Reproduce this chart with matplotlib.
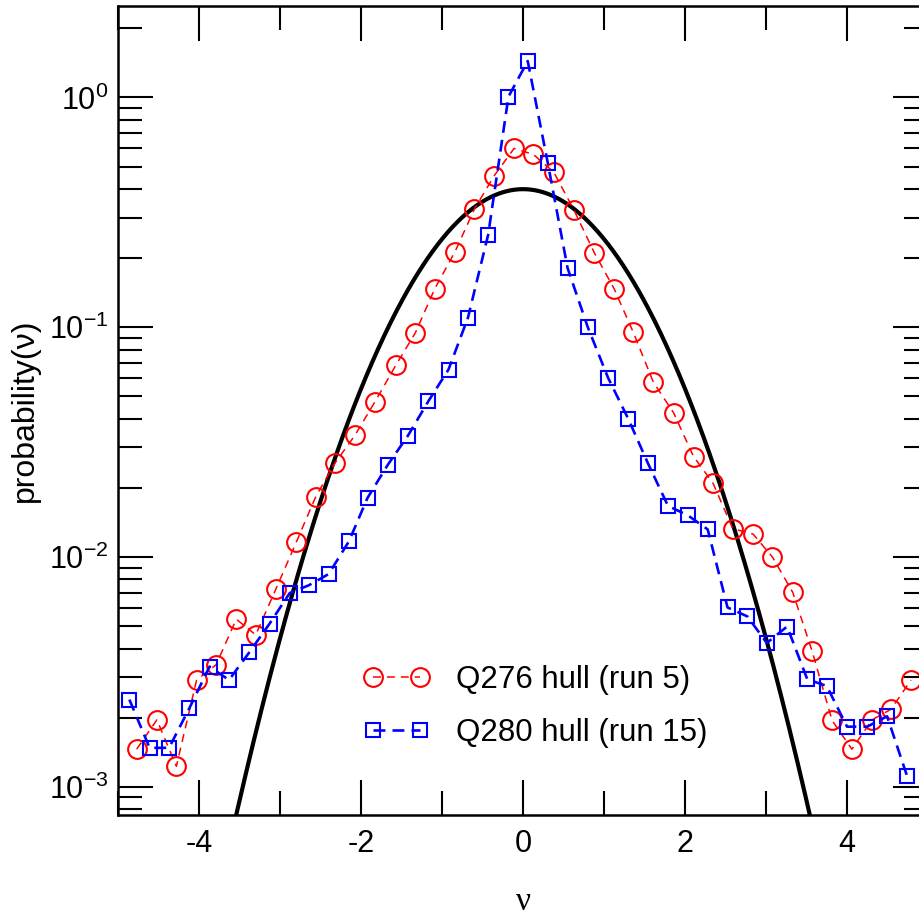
"""Distribuição de probabilidade de nu: dois cascos contra a normal padrão."""

import numpy as np
import matplotlib

matplotlib.use("Agg")
import matplotlib.pyplot as plt
from matplotlib.ticker import LogLocator, MultipleLocator, NullFormatter

plt.rcParams["font.family"] = ["Liberation Sans", "DejaVu Sans"]
plt.rcParams["mathtext.fontset"] = "custom"
plt.rcParams["mathtext.rm"] = "Liberation Sans"
plt.rcParams["axes.unicode_minus"] = False

# Q276 hull (run 5) - círculos vermelhos
nu_q276 = [-4.77, -4.52, -4.28, -4.03, -3.79, -3.54, -3.30, -3.05, -2.80, -2.56,
           -2.32, -2.07, -1.83, -1.57, -1.33, -1.09, -0.84, -0.60, -0.355, -0.11,
           0.127, 0.38, 0.63, 0.88, 1.125, 1.36, 1.61, 1.86, 2.105, 2.345,
           2.59, 2.84, 3.08, 3.33, 3.57, 3.815, 4.06, 4.31, 4.545, 4.79]
p_q276 = [1.46e-3, 1.96e-3, 1.23e-3, 2.92e-3, 3.40e-3, 5.37e-3, 4.59e-3, 7.28e-3,
          0.0116, 0.0183, 0.0257, 0.0341, 0.0473, 0.0684, 0.0945, 0.147, 0.213,
          0.327, 0.457, 0.600, 0.565, 0.473, 0.323, 0.211, 0.147, 0.0953, 0.0576,
          0.0424, 0.0274, 0.0210, 0.0133, 0.0126, 0.0100, 7.03e-3, 3.89e-3,
          1.95e-3, 1.46e-3, 1.96e-3, 2.18e-3, 2.92e-3]

# Q280 hull (run 15) - quadrados azuis
nu_q280 = [-4.86, -4.61, -4.37, -4.12, -3.87, -3.63, -3.38, -3.13, -2.88, -2.645,
           -2.40, -2.15, -1.92, -1.67, -1.42, -1.17, -0.92, -0.68, -0.43, -0.18,
           0.058, 0.305, 0.55, 0.80, 1.05, 1.30, 1.54, 1.79, 2.035, 2.28,
           2.525, 2.77, 3.01, 3.26, 3.51, 3.75, 4.00, 4.25, 4.495, 4.74]
p_q280 = [2.40e-3, 1.48e-3, 1.48e-3, 2.20e-3, 3.34e-3, 2.92e-3, 3.85e-3, 5.13e-3,
          6.98e-3, 7.54e-3, 8.44e-3, 0.0117, 0.0181, 0.0252, 0.0338, 0.0476,
          0.0655, 0.110, 0.253, 1.007, 1.44, 0.520, 0.181, 0.100, 0.0603, 0.0399,
          0.0257, 0.0167, 0.0152, 0.0132, 6.04e-3, 5.52e-3, 4.23e-3, 4.99e-3,
          2.94e-3, 2.75e-3, 1.83e-3, 1.83e-3, 2.03e-3, 1.12e-3]

labels = ["Q276 hull (run 5)", "Q280 hull (run 15)"]

# curva teórica: densidade normal padrão
nu_ref = np.linspace(-5, 5, 801)
p_ref = np.exp(-nu_ref ** 2 / 2) / np.sqrt(2 * np.pi)

fig = plt.figure(figsize=(9.2, 9.17), dpi=100)
ax = fig.add_axes([0.1283, 0.1112, 0.8804, 0.8823])

ax.plot(nu_ref, p_ref, "-", color="black", lw=3.0, zorder=2)
ax.plot(nu_q276, p_q276, color="red", lw=1.1, dashes=(5.2, 3.9),
        marker="o", ms=13.5, mfc="none", mec="red", mew=1.5,
        label=labels[0], zorder=3)
ax.plot(nu_q280, p_q280, color="blue", lw=1.9, dashes=(4.5, 2.7),
        marker="s", ms=10.5, mfc="none", mec="blue", mew=1.5,
        label=labels[1], zorder=3)

ax.set_yscale("log")
ax.set_xlim(-5, 5)
ax.set_ylim(7.55e-4, 2.5)

ax.xaxis.set_major_locator(MultipleLocator(2))
ax.xaxis.set_minor_locator(MultipleLocator(1))
ax.yaxis.set_major_locator(LogLocator(base=10, numticks=10))
ax.yaxis.set_minor_locator(LogLocator(base=10, subs=np.arange(2, 10), numticks=20))
ax.yaxis.set_minor_formatter(NullFormatter())

ax.tick_params(which="both", direction="in", top=True, right=True, width=1.5,
               labelsize=22)
ax.tick_params(which="major", length=25)
ax.tick_params(which="minor", length=17)
ax.tick_params(axis="x", pad=10)
ax.tick_params(axis="y", pad=7)
for sp in ax.spines.values():
    sp.set_linewidth(1.8)

ax.set_ylabel("probability(ν)", fontsize=23, labelpad=6)
ax.set_xlabel("ν", fontsize=24, family=["Liberation Serif", "DejaVu Serif"],
              labelpad=20)

ax.legend(loc="center left", bbox_to_anchor=(0.3957, 0.2296),
          bbox_transform=fig.transFigure, frameon=False, fontsize=22.5,
          numpoints=2, handlelength=2.1, handletextpad=0.84, labelspacing=0.72,
          borderpad=0, borderaxespad=0)

fig.savefig("out.png", dpi=100)
